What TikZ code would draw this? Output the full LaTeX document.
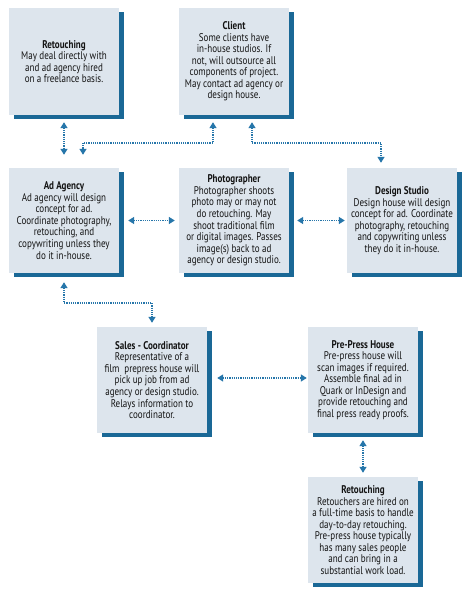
\documentclass[tikz,border=0pt]{standalone}
\usepackage{fontspec}
\setmainfont{PT Sans}[FakeStretch=0.81]
\usetikzlibrary{arrows.meta,shadows}
\definecolor{boxfill}{RGB}{221,229,237}
\definecolor{shadowblue}{RGB}{26,104,150}
\definecolor{linkblue}{RGB}{38,118,170}
\definecolor{textdark}{RGB}{20,20,20}

\begin{document}
\begin{tikzpicture}[
  x=1bp, y=-1bp,
  every node/.style={font=\fontsize{11.2}{11.6}\selectfont, text=textdark},
  role/.style={fill=boxfill, minimum width=110bp, minimum height=106bp, inner sep=1bp, align=center,
    drop shadow={shadow xshift=5bp, shadow yshift=-4bp, fill=shadowblue, opacity=1}},
  link/.style={linkblue, line width=1.3bp, dash pattern=on 1.1bp off 1.1bp,
    {Triangle[length=6bp,width=7bp]}-{Triangle[length=6bp,width=7bp]}}
]
  % Page frame (468 x 594, y grows downwards)
  \fill[white] (0,0) rectangle (468,594);
  \useasboundingbox (0,0) rectangle (468,594);

  % Top row
  \node[role, minimum height=107bp] (retA) at (64,61.5) {\textbf{Retouching}\\May deal directly with\\and ad agency hired\\on a freelance basis.};
  \node[role, minimum height=107bp] (client) at (234,61.5) {\textbf{Client}\\Some clients have\\in-house studios. If\\not, will outsource all\\components of project.\\May contact ad agency or\\design house.};

  % Middle row
  \node[role, minimum height=105bp] (adagency) at (64,220.5) {\textbf{Ad Agency}\\Ad agency will design\\concept for ad.\\Coordinate photography,\\retouching, and\\copywriting unless they\\do it in-house.};
  \node[role, minimum height=105bp] (photographer) at (234,220.5) {\textbf{Photographer}\\Photographer shoots\\photo may or may not\\do retouching. May\\shoot traditional film\\or digital images. Passes\\image(s) back to ad\\agency or design studio.};
  \node[role, minimum height=105bp] (design) at (402,220.5) {\textbf{Design Studio}\\Design house will design\\concept for ad. Coordinate\\photography, retouching\\and copywriting unless\\they do it in-house.};

  % Lower rows
  \node[role] (sales) at (152,380) {\textbf{Sales - Coordinator}\\Representative of a\\film\ \ prepress house will\\pick up job from ad\\agency or design studio.\\Relays information to\\coordinator.};
  \node[role] (prepress) at (363,380) {\textbf{Pre-Press House}\\Pre-press house will\\scan images if required.\\Assemble final ad in\\Quark or InDesign and\\provide retouching and\\final press ready proofs.};
  \node[role] (retB) at (363,530) {\textbf{Retouching}\\Retouchers are hired on\\a full-time basis to handle\\day-to-day retouching.\\Pre-press house typically\\has many sales people\\and can bring in a\\substantial work load.};

  % Bus lines for the elbow connectors
  \coordinate (busTop) at (0,143);
  \coordinate (busMid) at (0,303);
  \coordinate (agTop) at ([xshift=19bp,yshift=13bp]adagency.north);
  \coordinate (dsTop) at ([xshift=-21bp,yshift=5bp]design.north);

  % Connectors
  \draw[link] ([yshift=-7bp]retA.south) -- ([yshift=13bp]adagency.north);
  \draw[link] ([xshift=-21bp,yshift=-7bp]client.south) |- (agTop |- busTop) -- (agTop);
  \draw[link] ([xshift=18bp,yshift=-7bp]client.south) |- (dsTop |- busTop) -- (dsTop);
  \draw[link] ([xshift=9bp]adagency.east) -- ([xshift=-4bp]photographer.west);
  \draw[link] ([xshift=8bp]photographer.east) -- ([xshift=-2bp]design.west);
  \draw[link] ([yshift=-9bp]adagency.south) |- (sales.north |- busMid) -- ([yshift=4bp]sales.north);
  \draw[link] ([xshift=10bp,yshift=2bp]sales.east) -- ([xshift=-1bp,yshift=2bp]prepress.west);
  \draw[link] ([yshift=-7bp]prepress.south) -- ([yshift=4bp]retB.north);

\end{tikzpicture}
\end{document}
